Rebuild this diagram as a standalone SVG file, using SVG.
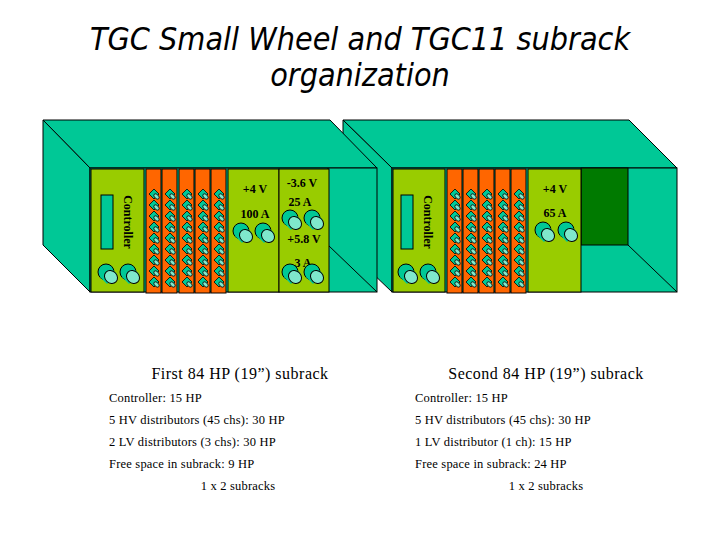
<svg xmlns="http://www.w3.org/2000/svg" xmlns:xlink="http://www.w3.org/1999/xlink" width="720" height="540" viewBox="0 0 720 540">
<style>
.t{fill:#00C896;stroke:#000;stroke-width:1}
.l{fill:#99CC00;stroke:#000;stroke-width:1}
.o{fill:#FF6600;stroke:#000;stroke-width:1}
.s{font-family:"Liberation Serif",serif;font-weight:bold;font-size:12px;fill:#000;text-anchor:middle}
.b{font-family:"Liberation Serif",serif;font-size:12.5px;letter-spacing:0.2px;fill:#000}
.h{font-family:"Liberation Serif",serif;font-size:16px;letter-spacing:0.5px;fill:#000;text-anchor:middle}
.ti{font-family:"DejaVu Sans Condensed","DejaVu Sans",sans-serif;font-style:italic;font-size:32px;fill:#000;text-anchor:middle}
</style>
<defs>
<g id="knob"><ellipse cx="-2" cy="-2" rx="8" ry="8" fill="#00C896" stroke="#000"/><path d="M-8,3 L2,-7 L9,0 L-1,10 Z" fill="#00C896" stroke="none"/><ellipse cx="3" cy="3" rx="6" ry="7" transform="rotate(-45 3 3)" fill="#7FE8CC" stroke="#000"/></g>
<g id="pin"><path d="M-5,-2 L0,-7 L5,-2 L0,3 Z" fill="#00C896" stroke="#000" stroke-width="0.8"/><ellipse cx="2.5" cy="0.5" rx="2" ry="3.2" transform="rotate(-45 2.5 0.5)" fill="#7FE8CC" stroke="#000" stroke-width="0.8"/></g>
<g id="pins"><use xlink:href="#pin" y="0"/><use xlink:href="#pin" y="11"/><use xlink:href="#pin" y="22"/><use xlink:href="#pin" y="33"/><use xlink:href="#pin" y="44"/><use xlink:href="#pin" y="55"/><use xlink:href="#pin" y="66"/><use xlink:href="#pin" y="77"/><use xlink:href="#pin" y="88"/></g>
<g id="card"><rect x="0" y="169" width="15" height="124" class="o"/><use xlink:href="#pins" x="8" y="196"/></g>
</defs>
<rect width="720" height="540" fill="#fff"/>
<text class="ti" x="360" y="50">TGC Small Wheel and TGC11 subrack</text>
<text class="ti" x="360" y="86">organization</text>

<g id="rack2">
<polygon class="t" points="343,120 629,120 677,168 392,168"/>
<polygon class="t" points="343,120 392,168 392,292 343,245"/>
<rect class="t" x="392" y="168" width="285" height="124"/>
<rect x="581" y="168" width="47" height="77" fill="#007A00" stroke="#000"/>
<line x1="628" y1="245" x2="677" y2="292" stroke="#000"/>
</g>
<g id="rack1">
<polygon class="t" points="43,120 330,120 377,168 90,168"/>
<polygon class="t" points="43,120 90,168 90,292 43,245"/>
<rect class="t" x="90" y="168" width="287" height="124"/>
<line x1="328" y1="168" x2="328" y2="245" stroke="#000"/>
<line x1="328" y1="245" x2="377" y2="292" stroke="#000"/>
</g>

<g id="controller1">
<rect class="l" x="91" y="169" width="53" height="123"/>
<rect class="t" x="101" y="195" width="12" height="54"/>
<text class="s" font-size="14" transform="translate(124,222) rotate(90)">Controller</text>
<use xlink:href="#knob" x="108" y="274"/><use xlink:href="#knob" x="130" y="274"/>
</g>
<g id="hv1"><use xlink:href="#card" x="146"/><use xlink:href="#card" x="162"/><use xlink:href="#card" x="179"/><use xlink:href="#card" x="195"/><use xlink:href="#card" x="211"/></g>
<g id="lv1a">
<rect class="l" x="228" y="169" width="51" height="123"/>
<text class="s" x="255" y="193">+4 V</text>
<text class="s" x="255" y="218">100 A</text>
<use xlink:href="#knob" x="243" y="233"/><use xlink:href="#knob" x="265" y="233"/>
</g>
<g id="lv1b">
<rect class="l" x="279" y="169" width="50" height="123"/>
<text class="s" x="302" y="187">-3.6 V</text>
<text class="s" x="300" y="206">25 A</text>
<use xlink:href="#knob" x="292" y="220"/><use xlink:href="#knob" x="314" y="220"/>
<text class="s" x="304" y="243">+5.8 V</text>
<text class="s" x="303" y="267">3 A</text>
<use xlink:href="#knob" x="292" y="274"/><use xlink:href="#knob" x="314" y="274"/>
</g>

<g id="controller2">
<rect class="l" x="393" y="169" width="52" height="123"/>
<rect class="t" x="401" y="195" width="12" height="54"/>
<text class="s" font-size="14" transform="translate(424,222) rotate(90)">Controller</text>
<use xlink:href="#knob" x="408" y="274"/><use xlink:href="#knob" x="430" y="274"/>
</g>
<g id="hv2"><use xlink:href="#card" x="447"/><use xlink:href="#card" x="463"/><use xlink:href="#card" x="479"/><use xlink:href="#card" x="495"/><use xlink:href="#card" x="511"/></g>
<g id="lv2">
<rect class="l" x="528" y="169" width="53" height="123"/>
<text class="s" x="555" y="193">+4 V</text>
<text class="s" x="555" y="217">65 A</text>
<use xlink:href="#knob" x="545" y="232"/><use xlink:href="#knob" x="568" y="232"/>
</g>

<g id="connectors"/>

<g id="text1">
<text class="h" x="240" y="379">First 84 HP (19”) subrack</text>
<text class="b" x="109" y="402">Controller: 15 HP</text>
<text class="b" x="109" y="424">5 HV distributors (45 chs): 30 HP</text>
<text class="b" x="109" y="446">2 LV distributors (3 chs): 30 HP</text>
<text class="b" x="109" y="468">Free space in subrack: 9 HP</text>
<text class="b" x="238" y="490" text-anchor="middle">1 x 2 subracks</text>
</g>
<g id="text2">
<text class="h" x="546" y="379">Second 84 HP (19”) subrack</text>
<text class="b" x="415" y="402">Controller: 15 HP</text>
<text class="b" x="415" y="424">5 HV distributors (45 chs): 30 HP</text>
<text class="b" x="415" y="446">1 LV distributor (1 ch): 15 HP</text>
<text class="b" x="415" y="468">Free space in subrack: 24 HP</text>
<text class="b" x="546" y="490" text-anchor="middle">1 x 2 subracks</text>
</g>
</svg>
